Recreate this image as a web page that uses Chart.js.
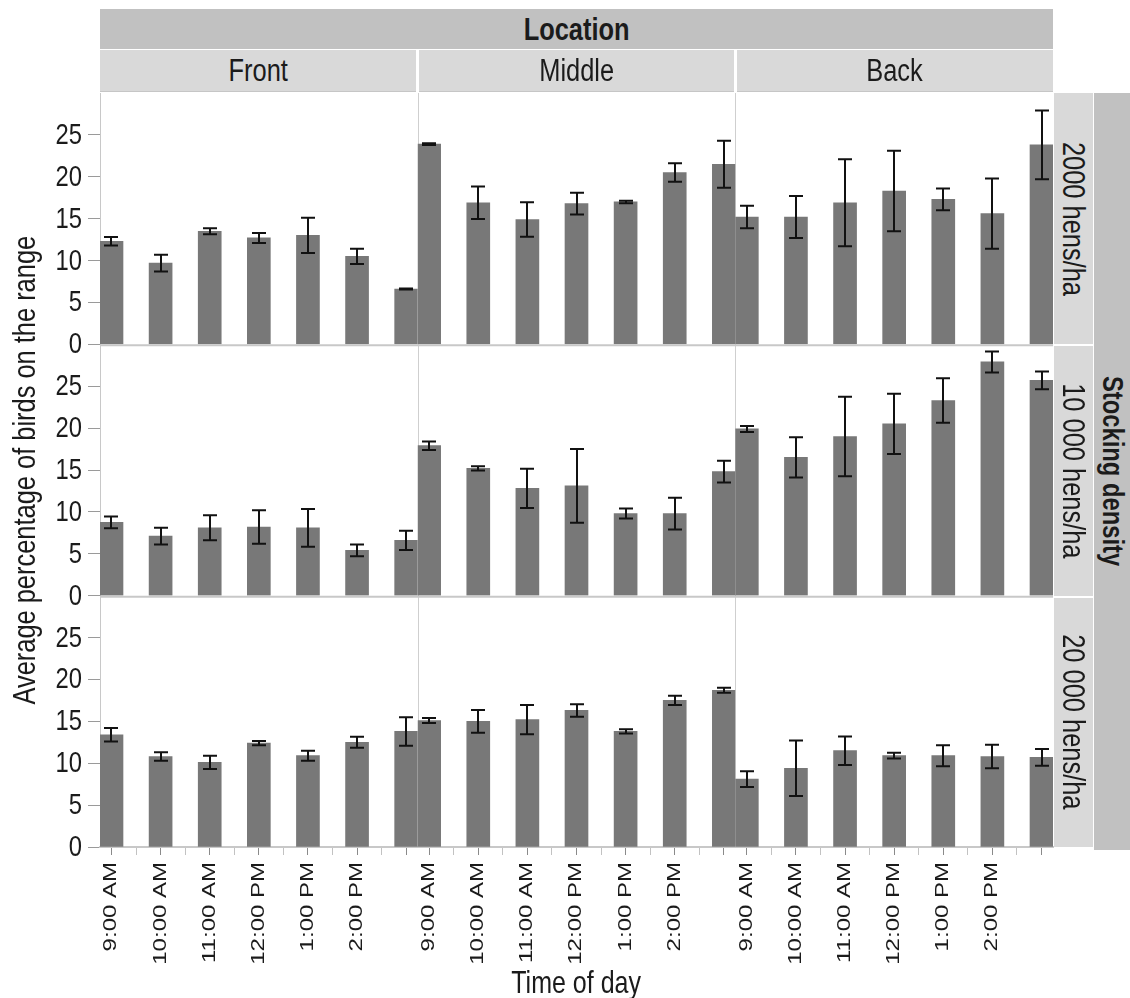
<!DOCTYPE html>
<html lang="en">
<head>
<meta charset="utf-8">
<title>Average percentage of birds on the range</title>
<script src="https://cdn.jsdelivr.net/npm/chart.js@4.4.1/dist/chart.umd.min.js"></script>
<style>
  html, body { margin: 0; padding: 0; background: #fff; }
  #stage { position: relative; width: 1130px; height: 998px; overflow: hidden; }
  #chart { position: absolute; left: 0; top: 0; }
  .strip {
    position: absolute; box-sizing: border-box;
    display: flex; align-items: center; justify-content: center;
    font-family: 'Liberation Sans', Arial, sans-serif;
    color: #1b1b1b; white-space: nowrap; line-height: 1;
  }
  .strip span { display: inline-block; }
  .h span { transform: scaleX(0.82); }
  .v span { transform: scaleY(0.82); }
  .band  { background: #c1c1c1; font-weight: bold; font-size: 31px; }
  .col   { background: #d9d9d9; font-size: 31px; border-bottom: 1px solid #c6c6c6; }
  .row   { background: #d9d9d9; font-size: 31px; writing-mode: vertical-rl; }
  .outer { background: #c1c1c1; font-weight: bold; font-size: 29px; writing-mode: vertical-rl; }
  .ytitle { font-size: 31px; writing-mode: vertical-rl; transform: rotate(180deg); }
  .xtitle { font-size: 30.5px; align-items: flex-start; }
</style>
</head>
<body>
<div id="stage">
  <canvas id="chart" width="1130" height="998"></canvas>
</div>
<script>
// Facets and axis labels
const locations = ['Front', 'Middle', 'Back'];
const densities = ['2000 hens/ha', '10 000 hens/ha', '20 000 hens/ha'];
const timeLabels = ['9:00 AM', '10:00 AM', '11:00 AM', '12:00 PM', '1:00 PM', '2:00 PM'];
const slotTicks = [0, 0.5, 1, 1.5, 2, 2.5, 3, 3.5, 4, 4.5, 5, 5.5, 6];
const yTicks = [0, 5, 10, 15, 20, 25];

// Mean percentage of birds on the range, hourly from 9:00 AM (7 observations)
const front2000  = [12.3, 9.7, 13.5, 12.7, 13.0, 10.5, 6.6];
const middle2000 = [23.9, 16.9, 14.9, 16.8, 17.0, 20.5, 21.5];
const back2000   = [15.2, 15.2, 16.9, 18.3, 17.3, 15.6, 23.8];

const front10000  = [8.75, 7.1, 8.1, 8.2, 8.1, 5.4, 6.6];
const middle10000 = [17.9, 15.2, 12.8, 13.1, 9.8, 9.8, 14.8];
const back10000   = [19.9, 16.5, 19.0, 20.5, 23.3, 27.9, 25.7];

const front20000  = [13.4, 10.8, 10.1, 12.4, 10.9, 12.5, 13.8];
const middle20000 = [15.1, 15.0, 15.2, 16.3, 13.8, 17.5, 18.7];
const back20000   = [8.1, 9.4, 11.5, 10.9, 10.9, 10.8, 10.7];

// Error bar half-lengths
const front2000Err  = [0.5, 1.0, 0.35, 0.6, 2.1, 0.9, 0.05];
const middle2000Err = [0.1, 1.95, 2.05, 1.3, 0.15, 1.1, 2.8];
const back2000Err   = [1.35, 2.5, 5.2, 4.8, 1.3, 4.2, 4.1];

const front10000Err  = [0.7, 1.0, 1.5, 2.0, 2.25, 0.7, 1.15];
const middle10000Err = [0.5, 0.25, 2.35, 4.4, 0.6, 1.9, 1.3];
const back10000Err   = [0.35, 2.4, 4.75, 3.6, 2.65, 1.25, 1.05];

const front20000Err  = [0.8, 0.5, 0.8, 0.25, 0.6, 0.65, 1.7];
const middle20000Err = [0.3, 1.35, 1.75, 0.75, 0.25, 0.55, 0.3];
const back20000Err   = [0.95, 3.3, 1.7, 0.35, 1.25, 1.4, 1.0];

// Rows = stocking density, columns = location
const meanGrid = [
  [front2000, middle2000, back2000],
  [front10000, middle10000, back10000],
  [front20000, middle20000, back20000]
];
const errGrid = [
  [front2000Err, middle2000Err, back2000Err],
  [front10000Err, middle10000Err, back10000Err],
  [front20000Err, middle20000Err, back20000Err]
];

const BAR_GREY = '#787878';
const TEXT = '#1b1b1b';
const SANS = "'Liberation Sans', Arial, sans-serif";

const datasets = [];
densities.forEach((density, r) => {
  locations.forEach((loc, c) => {
    datasets.push({
      label: loc + ', ' + density,
      data: meanGrid[r][c].map((v, i) => ({ x: i, y: v })),
      errors: errGrid[r][c],
      xAxisID: 'x' + c,
      yAxisID: 'y' + r,
      backgroundColor: BAR_GREY,
      borderWidth: 0,
      barThickness: 23,
      grouped: false
    });
  });
});

const scales = {};
locations.forEach((loc, c) => {
  scales['x' + c] = {
    type: 'linear', axis: 'x', position: 'bottom',
    stack: 'location', stackWeight: 1, weight: c + 1,
    min: -0.234, max: 6.234, offset: false,
    afterBuildTicks: s => { s.ticks = slotTicks.map(v => ({ value: v })); },
    afterFit: s => { s.height = 151; },
    ticks: { autoSkip: false, maxRotation: 0, callback: () => '' },
    grid: {
      offset: false, drawOnChartArea: false, drawTicks: true, tickLength: 8, tickWidth: 1,
      tickColor: ctx => Number.isInteger(ctx.tick.value) ? '#8a8a8a' : '#c2c2c2'
    },
    border: { display: true, color: '#c8c8c8', width: 2 }
  };
});
densities.forEach((density, r) => {
  scales['y' + r] = {
    type: 'linear', axis: 'y', position: 'left',
    stack: 'density', stackWeight: 1, weight: 3 - r,
    min: 0, max: 30,
    afterBuildTicks: s => { s.ticks = yTicks.map(v => ({ value: v })); },
    afterFit: s => { s.width = 40; },
    ticks: { autoSkip: false, padding: 6, callback: () => '' },
    grid: { drawOnChartArea: false, drawTicks: true, tickLength: 12, tickColor: '#9a9a9a' },
    border: { display: true, color: '#c8c8c8', width: 1 }
  };
});

// Panel dividers, error bars and the condensed axis labels
const facetPlugin = {
  id: 'facetPlugin',
  beforeDatasetsDraw(chart) {
    const { ctx, chartArea: a } = chart;
    ctx.save();
    ctx.strokeStyle = '#cfcfcf';
    ctx.lineWidth = 1;
    for (let c = 1; c < locations.length; c++) {
      const x = Math.round(chart.scales['x' + c].left) + 0.5;
      ctx.beginPath(); ctx.moveTo(x, a.top); ctx.lineTo(x, a.bottom); ctx.stroke();
    }
    ctx.strokeStyle = '#c8c8c8';
    ctx.lineWidth = 2;
    for (let r = 0; r < densities.length - 1; r++) {
      const y = chart.scales['y' + r].getPixelForValue(0) + 1;
      ctx.beginPath(); ctx.moveTo(a.left, y); ctx.lineTo(a.right, y); ctx.stroke();
    }
    ctx.restore();
  },
  afterDatasetsDraw(chart) {
    const { ctx } = chart;
    ctx.save();
    ctx.strokeStyle = '#111';
    ctx.lineWidth = 2;
    chart.data.datasets.forEach(ds => {
      const xs = chart.scales[ds.xAxisID];
      const ys = chart.scales[ds.yAxisID];
      ds.data.forEach((p, i) => {
        const e = ds.errors[i];
        const x = Math.round(xs.getPixelForValue(p.x));
        const yHi = ys.getPixelForValue(p.y + e);
        const yLo = ys.getPixelForValue(p.y - e);
        ctx.beginPath();
        ctx.moveTo(x, yHi); ctx.lineTo(x, yLo);
        ctx.moveTo(x - 7, yHi); ctx.lineTo(x + 7, yHi);
        ctx.moveTo(x - 7, yLo); ctx.lineTo(x + 7, yLo);
        ctx.stroke();
      });
    });
    ctx.restore();
  },
  afterDraw(chart) {
    const { ctx, chartArea: a } = chart;
    ctx.save();
    ctx.fillStyle = TEXT;

    // time-of-day tick labels, rotated to read upwards
    ctx.font = '24px ' + SANS;
    ctx.textAlign = 'right';
    ctx.textBaseline = 'middle';
    locations.forEach((loc, c) => {
      const xs = chart.scales['x' + c];
      timeLabels.forEach((label, i) => {
        ctx.save();
        ctx.translate(xs.getPixelForValue(i), a.bottom + 15);
        ctx.rotate(-Math.PI / 2);
        ctx.scale(1, 0.74);
        ctx.fillText(label, 0, 0);
        ctx.restore();
      });
    });

    // percentage tick labels on every row
    ctx.font = '29px ' + SANS;
    densities.forEach((d, r) => {
      const ys = chart.scales['y' + r];
      yTicks.forEach(v => {
        ctx.save();
        ctx.translate(a.left - 18, ys.getPixelForValue(v) + 1);
        ctx.scale(0.82, 1);
        ctx.fillText(String(v), 0, 0);
        ctx.restore();
      });
    });
    ctx.restore();
  }
};

const chart = new Chart(document.getElementById('chart'), {
  type: 'bar',
  data: { datasets },
  options: {
    responsive: false,
    animation: false,
    devicePixelRatio: 1,
    layout: { padding: { left: 60, top: 93, right: 77, bottom: 0 } },
    plugins: { legend: { display: false }, tooltip: { enabled: false } },
    scales
  },
  plugins: [facetPlugin]
});

// Facet strips and axis titles around the plotting area
const stage = document.getElementById('stage');
function addStrip(cls, text, left, top, width, height) {
  const d = document.createElement('div');
  d.className = 'strip ' + cls;
  const s = document.createElement('span');
  s.textContent = text;
  d.appendChild(s);
  Object.assign(d.style, { left: left + 'px', top: top + 'px', width: width + 'px', height: height + 'px' });
  stage.appendChild(d);
  return d;
}
const area = chart.chartArea;
addStrip('band h', 'Location', area.left, 9, area.right - area.left, 40);
locations.forEach((loc, c) => {
  const s = chart.scales['x' + c];
  const l = s.left + (c > 0 ? 1.5 : 0);
  const rgt = s.right - (c < locations.length - 1 ? 1.5 : 0);
  addStrip('col h', loc, l, 50, rgt - l, 42);
});
densities.forEach((d, r) => {
  const s = chart.scales['y' + r];
  const t = s.top + (r > 0 ? 2 : 0);
  addStrip('row v', d, area.right + 1, t, 39, s.bottom - t);
});
addStrip('outer v', 'Stocking density', area.right + 41, area.top, 1130 - area.right - 41, area.bottom - area.top + 3);
addStrip('ytitle v', 'Average percentage of birds on the range', 6, area.top, 38, area.bottom - area.top);
addStrip('xtitle h', 'Time of day', area.left, 967, area.right - area.left, 31);
</script>
</body>
</html>
